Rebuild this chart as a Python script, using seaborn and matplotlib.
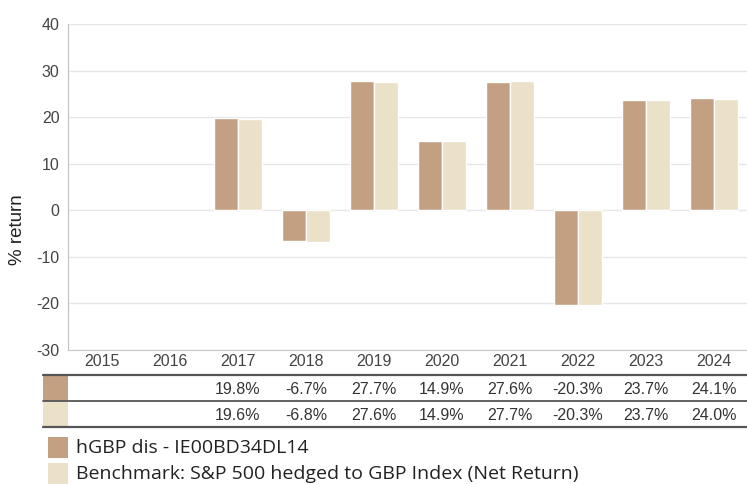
import pandas as pd
import numpy as np
import matplotlib.pyplot as plt
import seaborn as sns
from matplotlib.patches import Rectangle
from matplotlib.lines import Line2D

# Data
years = ['2015', '2016', '2017', '2018', '2019', '2020', '2021', '2022', '2023', '2024']
fund = [np.nan, np.nan, 19.8, -6.7, 27.7, 14.9, 27.6, -20.3, 23.7, 24.1]
bench = [np.nan, np.nan, 19.6, -6.8, 27.6, 14.9, 27.7, -20.3, 23.7, 24.0]
series_names = ['hGBP dis - IE00BD34DL14',
                'Benchmark: S&P 500 hedged to GBP Index (Net Return)']
colors = ['#C4A082', '#EBE0C8']

df = pd.DataFrame({
    'Year': years * 2,
    'Return': fund + bench,
    'Series': [series_names[0]] * len(years) + [series_names[1]] * len(years),
})

sns.set_style('white')
plt.rcParams['font.family'] = ['Liberation Sans', 'DejaVu Sans']
plt.rcParams['axes.unicode_minus'] = False

fig = plt.figure(figsize=(7.47, 4.84), dpi=100)
ax = fig.add_axes([68 / 747, 1 - 350 / 484, 680 / 747, 326 / 484])

sns.barplot(data=df, x='Year', y='Return', hue='Series', order=years,
            hue_order=series_names, palette=colors, width=0.7, saturation=1,
            edgecolor='white', linewidth=1, ax=ax, legend=False)

ax.set_ylim(-30, 40)
ax.set_yticks(range(-30, 41, 10))
ax.set_xlim(-0.5, len(years) - 0.5)
ax.yaxis.grid(True, color='#E6E6E6', linewidth=1)
ax.set_axisbelow(True)
for s in ['top', 'right']:
    ax.spines[s].set_visible(False)
ax.spines['left'].set_color('#C0C0C0')
ax.spines['bottom'].set_color('#C8C8C8')
ax.tick_params(axis='both', length=0, labelsize=11.5, colors='#444444')
ax.tick_params(axis='x', pad=3)
ax.tick_params(axis='y', pad=6)
ax.set_xlabel('')
ax.set_ylabel('% return', fontsize=13.5, color='#222222')
ax.yaxis.set_label_coords(-0.062, 0.37)

# Data table below the chart
def fy(px):
    return 1 - px / 484

def fx(px):
    return px / 747

for y, lw in [(375, 1.6), (401, 1.3), (427, 1.6)]:
    fig.add_artist(Line2D([fx(43), 1], [fy(y), fy(y)], color='#555555', linewidth=lw))

for i, (vals, c) in enumerate(zip([fund, bench], colors)):
    top = 376 + i * 26
    fig.add_artist(Rectangle((fx(43), fy(top + 25)), fx(25), 25 / 484, color=c, linewidth=0))
    yc = fy(top + 13)
    for j, v in enumerate(vals):
        if np.isnan(v):
            continue
        xd = ax.transData.transform((j, 0))[0]
        xf = fig.transFigure.inverted().transform((xd, 0))[0]
        fig.text(xf, yc, f'{v:.1f}%', ha='center', va='center', fontsize=11.5, color='#333333')

# Legend
for i, (name, c) in enumerate(zip(series_names, colors)):
    top = 437 + i * 26
    fig.add_artist(Rectangle((fx(48), fy(top + 21)), fx(20), 21 / 484, color=c, linewidth=0))
    fig.text(fx(76), fy(top + 11), name, ha='left', va='center', fontsize=14,
             color='#222222', family=['Open Sans', 'DejaVu Sans'])

plt.savefig('out.png', dpi=100, facecolor='white')
